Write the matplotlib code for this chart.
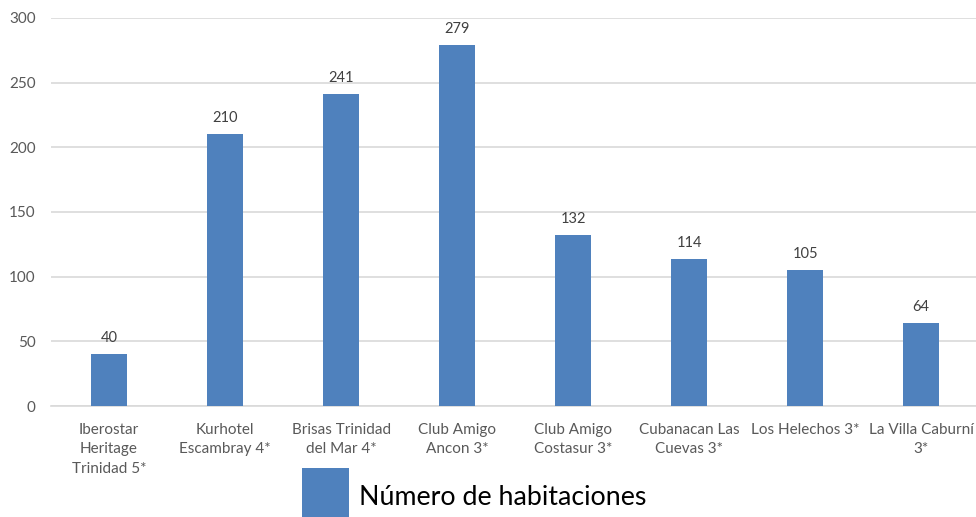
import matplotlib
matplotlib.use('Agg')
import matplotlib.pyplot as plt
import numpy as np

hotels = ['Iberostar\nHeritage\nTrinidad 5*', 'Kurhotel\nEscambray 4*', 'Brisas Trinidad\ndel Mar 4*',
          'Club Amigo\nAncon 3*', 'Club Amigo\nCostasur 3*', 'Cubanacan Las\nCuevas 3*',
          'Los Helechos 3*', 'La Villa Caburní\n3*']
rooms = [40, 210, 241, 279, 132, 114, 105, 64]
series_name = 'Número de habitaciones'
yticks = [0, 50, 100, 150, 200, 250, 300]

plt.rcParams['font.family'] = ['Lato', 'DejaVu Sans']

fig = plt.figure(figsize=(9.76, 5.17), dpi=100)
ax = fig.add_axes([0.0523, 0.2147, 0.951, 0.7505])

x = np.arange(len(rooms))
bars = ax.bar(x, rooms, width=0.31, color='#4f81bd', zorder=3, label=series_name)
for xi, v in zip(x, rooms):
    ax.text(xi, v + 7, str(v), ha='center', va='bottom', fontsize=10.5, color='#404040')

ax.set_xlim(-0.5, 7.5)
ax.set_ylim(0, 300)
ax.set_yticks(yticks)
ax.set_xticks(x)
ax.set_xticklabels(hotels, fontsize=11, color='#595959', linespacing=1.5)
ax.tick_params(axis='y', labelsize=11, labelcolor='#595959', length=0, pad=11)
ax.tick_params(axis='x', length=0, pad=12)
ax.grid(axis='y', color='#d9d9d9', linewidth=1.2, zorder=0)
for s in ['top', 'right', 'left']:
    ax.spines[s].set_visible(False)
ax.spines['bottom'].set_color('#d9d9d9')
ax.spines['bottom'].set_linewidth(1.2)

# legend sits at the bottom and is partly cut off by the figure edge
fig.legend(handles=[bars], labels=[series_name], loc='upper left',
           bbox_to_anchor=(302 / 976, 1 - 468 / 517), frameon=False, fontsize=19.3,
           handlelength=1.75, handleheight=3.0, handletextpad=0.38,
           borderaxespad=0, borderpad=0)

fig.savefig('out.png', dpi=100)
